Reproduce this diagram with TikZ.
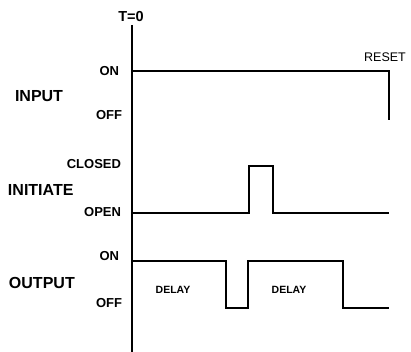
\documentclass[tikz,border=0pt]{standalone}
\usepackage{fontspec}
\setmainfont{Liberation Sans}
\usetikzlibrary{positioning,calc}

\begin{document}
\begin{tikzpicture}[x=1pt,y=-1pt,line width=2pt,
  level/.style={font=\bfseries\fontsize{13}{15}\selectfont,anchor=east,inner sep=0pt},
  signame/.style={font=\bfseries\fontsize{16}{18}\selectfont,anchor=west,inner sep=0pt},
  delaytxt/.style={font=\bfseries\fontsize{10.5}{12}\selectfont,inner sep=0pt}]
\useasboundingbox (0,0) rectangle (411,352);
% time axis
\coordinate (top) at (132,25); \coordinate (bot) at (132,352);
\draw (top) -- (bot);
\node[font=\bfseries\fontsize{14.5}{16}\selectfont,inner sep=0pt] (t0) at (131,17) {T=0};
% input
\coordinate (inA) at (132,71); \coordinate (inB) at (389,71); \coordinate (inC) at (389,120);
\draw (inA) -- (inB) -- (inC);
\node[font=\fontsize{12.5}{14}\selectfont,inner sep=0pt] (reset) at (385,57) {RESET};
\node[level] (inon) at (120,71) {ON};
\node[level] (inoff) at (123,115) {OFF};
\node[signame] (input) at (14,96) {INPUT};
% initiate
\coordinate (iniA) at (132,213); \coordinate (iniB) at (249,213);
\coordinate (iniC) at (249,166); \coordinate (iniD) at (273,166);
\coordinate (iniE) at (273,213); \coordinate (iniF) at (389,213);
\draw (iniA) -- (iniB) -- (iniC) -- (iniD) -- (iniE) -- (iniF);
\node[level] (closed) at (122,164) {CLOSED};
\node[level] (open) at (122,212) {OPEN};
\node[signame] (initiate) at (7,190) {INITIATE};
% output
\coordinate (outA) at (132,261); \coordinate (outB) at (226,261);
\coordinate (outC) at (226,308); \coordinate (outD) at (248,308);
\coordinate (outE) at (248,261); \coordinate (outF) at (343,261);
\coordinate (outG) at (343,308); \coordinate (outH) at (389,308);
\draw (outA) -- (outB) -- (outC) -- (outD) -- (outE) -- (outF) -- (outG) -- (outH);
\node[level] (outon) at (120,256) {ON};
\node[level] (outoff) at (123,303) {OFF};
\node[signame] (output) at (8,283) {OUTPUT};
\node[delaytxt] (delay1) at (173,290) {DELAY};
\node[delaytxt] (delay2) at (289,290) {DELAY};
\end{tikzpicture}
\end{document}
